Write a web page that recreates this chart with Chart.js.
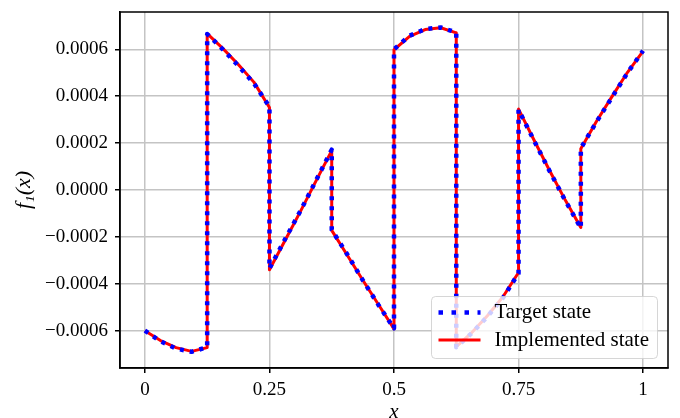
<!DOCTYPE html>
<html>
<head>
<meta charset="utf-8">
<script src="https://cdn.jsdelivr.net/npm/chart.js@4"></script>
<style>
  html, body { margin: 0; padding: 0; background: #fff; }
  canvas { display: block; }
</style>
</head>
<body>
<canvas id="chart" width="680" height="418"></canvas>
<script>
// x positions: 8 segments of width 1/8, boundary x repeated for the jumps
const xs = [
    0, 0.03125, 0.0625, 0.09375, 0.125,
    0.125, 0.15625, 0.1875, 0.21875, 0.25,
    0.25, 0.28125, 0.3125, 0.34375, 0.375,
    0.375, 0.40625, 0.4375, 0.46875, 0.5,
    0.5, 0.53125, 0.5625, 0.59375, 0.625,
    0.625, 0.65625, 0.6875, 0.71875, 0.75,
    0.75, 0.78125, 0.8125, 0.84375, 0.875,
    0.875, 0.90625, 0.9375, 0.96875, 1
];

const targetY = [
    -0.000600, -0.000645, -0.000676, -0.000690, -0.000670,
    0.000665, 0.000600, 0.000530, 0.000455, 0.000355,
    -0.000335, -0.000210, -0.000088, 0.000042, 0.000172,
    -0.000170, -0.000275, -0.000385, -0.000490, -0.000590,
    0.000600, 0.000658, 0.000686, 0.000693, 0.000672,
    -0.000670, -0.000610, -0.000540, -0.000460, -0.000355,
    0.000342, 0.000210, 0.000080, -0.000045, -0.000162,
    0.000178, 0.000290, 0.000395, 0.000500, 0.000594
];

const implementedY = [
    -0.000600, -0.000642, -0.000672, -0.000688, -0.000672,
    0.000667, 0.000604, 0.000535, 0.000460, 0.000352,
    -0.000340, -0.000215, -0.000090, 0.000040, 0.000168,
    -0.000172, -0.000278, -0.000385, -0.000488, -0.000592,
    0.000598, 0.000655, 0.000684, 0.000692, 0.000670,
    -0.000668, -0.000608, -0.000536, -0.000455, -0.000352,
    0.000345, 0.000212, 0.000082, -0.000043, -0.000160,
    0.000176, 0.000292, 0.000398, 0.000502, 0.000592
];

const xTicks = [0, 0.25, 0.5, 0.75, 1];
const xTickLabels = ["0", "0.25", "0.5", "0.75", "1"];

const yTicks = [-0.0006, -0.0004, -0.0002, 0, 0.0002, 0.0004, 0.0006];
const yTickLabels = ["\u22120.0006", "\u22120.0004", "\u22120.0002", "0.0000", "0.0002", "0.0004", "0.0006"];

const seriesNames = ["Target state", "Implemented state"];

const serif = "'Liberation Serif', 'DejaVu Serif', serif";

function toPoints(ys) {
    return xs.map((x, i) => ({ x: x, y: ys[i] }));
}

/* =========================
   frame + legend box
========================= */
const frameAndLegend = {
    id: "frameAndLegend",
    afterDraw(chart) {
        const ctx = chart.ctx;
        const a = chart.chartArea;

        ctx.save();

        // full frame around plot
        ctx.strokeStyle = "#000";
        ctx.lineWidth = 1.5;
        ctx.strokeRect(a.left, a.top, a.right - a.left, a.bottom - a.top);

        // legend
        const w = 226, h = 62;
        const x = a.right - 10.5 - w;
        const y = a.bottom - 9.5 - h;

        ctx.beginPath();
        ctx.roundRect(x, y, w, h, 4);
        ctx.fillStyle = "rgba(255,255,255,0.8)";
        ctx.fill();
        ctx.strokeStyle = "rgba(204,204,204,0.8)";
        ctx.lineWidth = 1;
        ctx.stroke();

        const rows = [y + 16, y + 43.5];
        const ds = chart.data.datasets;

        rows.forEach((ry, i) => {
            ctx.beginPath();
            ctx.strokeStyle = ds[i].borderColor;
            ctx.lineWidth = ds[i].borderWidth;
            ctx.setLineDash(i === 0 ? [4.5, 8.5] : []);
            ctx.moveTo(x + 7, ry);
            ctx.lineTo(x + 49, ry);
            ctx.stroke();
            ctx.setLineDash([]);

            ctx.fillStyle = "#000";
            ctx.font = "21px " + serif;
            ctx.textBaseline = "middle";
            ctx.textAlign = "left";
            ctx.fillText(seriesNames[i], x + 63, ry);
        });

        ctx.restore();
    }
};

const chart = new Chart(document.getElementById("chart"), {

    type: "line",

    data: {
        datasets: [
            {
                label: seriesNames[0],
                data: toPoints(targetY),
                borderColor: "#0000ff",
                borderWidth: 4.5,
                borderDash: [4, 6],
                borderCapStyle: "butt",
                borderJoinStyle: "round",
                pointRadius: 0,
                tension: 0,
                fill: false
            },
            {
                label: seriesNames[1],
                data: toPoints(implementedY),
                borderColor: "#ff0000",
                borderWidth: 3,
                borderJoinStyle: "round",
                pointRadius: 0,
                tension: 0,
                fill: false
            }
        ]
    },

    options: {
        responsive: false,
        animation: false,
        layout: {
            padding: { top: 12, right: 12, left: 0, bottom: 0 }
        },
        plugins: {
            legend: { display: false },
            tooltip: { enabled: false }
        },
        scales: {
            x: {
                type: "linear",
                min: -0.05,
                max: 1.05,
                afterBuildTicks: axis => {
                    axis.ticks = xTicks.map(v => ({ value: v }));
                },
                afterFit: axis => {
                    axis.height = 50;
                    axis.paddingLeft = 0;
                    axis.paddingRight = 0;
                },
                ticks: {
                    autoSkip: false,
                    maxRotation: 0,
                    padding: 6,
                    color: "#000",
                    font: { family: serif, size: 19 },
                    callback: (value) => xTickLabels[xTicks.indexOf(value)]
                },
                grid: {
                    color: "#c4c4c4",
                    lineWidth: 1.5,
                    tickColor: "#000",
                    tickLength: 5,
                    tickWidth: 1.5
                },
                border: { color: "#000", width: 1.5 },
                title: {
                    display: true,
                    text: "x",
                    color: "#000",
                    font: { family: serif, size: 21, style: "italic", lineHeight: 0.5 },
                    padding: { top: 0, bottom: 0 }
                }
            },
            y: {
                type: "linear",
                min: -0.000759,
                max: 0.000759,
                afterBuildTicks: axis => {
                    axis.ticks = yTicks.map(v => ({ value: v }));
                },
                afterFit: axis => {
                    axis.width = 120;
                    axis.paddingTop = 0;
                    axis.paddingBottom = 0;
                },
                ticks: {
                    autoSkip: false,
                    padding: 7,
                    color: "#000",
                    font: { family: serif, size: 19 },
                    callback: (value) => {
                        const i = yTicks.findIndex(t => Math.abs(t - value) < 1e-9);
                        return yTickLabels[i];
                    }
                },
                grid: {
                    color: "#c4c4c4",
                    lineWidth: 1.5,
                    tickColor: "#000",
                    tickLength: 5,
                    tickWidth: 1.5
                },
                border: { color: "#000", width: 1.5 },
                title: {
                    display: true,
                    text: "f\u2081(x)",
                    color: "#000",
                    font: { family: serif, size: 22, style: "italic", lineHeight: 1 },
                    padding: { top: 13, bottom: 0 }
                }
            }
        }
    },

    plugins: [frameAndLegend]
});
</script>
</body>
</html>
